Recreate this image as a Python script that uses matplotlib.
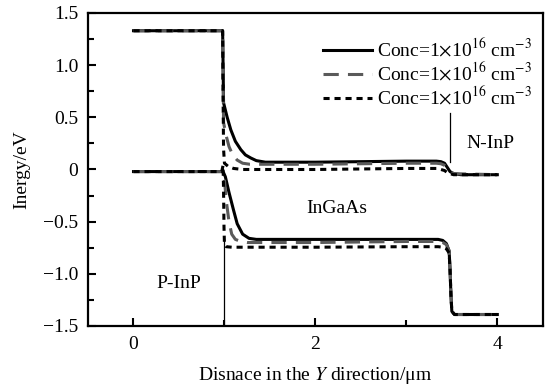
import matplotlib
matplotlib.use('Agg')
import matplotlib.pyplot as plt

plt.rcParams['font.family'] = ['Liberation Serif', 'DejaVu Serif']
plt.rcParams['mathtext.fontset'] = 'stix'

# Conduction band (upper curves)
x_cb_solid = [0, 0.98, 0.985, 0.99, 1.03, 1.07, 1.12, 1.18, 1.23, 1.29, 1.35, 1.45, 2.0, 3.0, 3.33, 3.38, 3.42, 3.45, 3.48, 3.52, 3.6, 4.0]
y_cb_solid = [1.33, 1.33, 1.0, 0.64, 0.50, 0.38, 0.27, 0.19, 0.14, 0.11, 0.085, 0.07, 0.07, 0.08, 0.08, 0.075, 0.06, 0.02, -0.02, -0.04, -0.05, -0.05]

x_cb_dash = [0, 0.98, 0.985, 0.99, 1.02, 1.05, 1.09, 1.14, 1.20, 1.28, 2.0, 3.0, 3.33, 3.38, 3.42, 3.45, 3.48, 3.52, 4.0]
y_cb_dash = [1.33, 1.33, 0.9, 0.45, 0.32, 0.22, 0.14, 0.09, 0.06, 0.05, 0.05, 0.06, 0.06, 0.055, 0.04, 0.01, -0.02, -0.04, -0.05]

x_cb_dot = [0, 0.98, 0.985, 0.99, 1.0, 1.04, 1.1, 1.2, 2.0, 3.0, 3.33, 3.38, 3.42, 3.45, 3.48, 3.52, 4.0]
y_cb_dot = [1.33, 1.33, 0.7, 0.2, 0.06, 0.03, 0.01, 0.0, 0.0, 0.01, 0.01, 0.0, -0.01, -0.03, -0.04, -0.05, -0.05]

# Valence band (lower curves)
x_vb_solid = [0, 0.98, 0.99, 1.01, 1.05, 1.10, 1.14, 1.20, 1.27, 1.35, 2.0, 3.0, 3.35, 3.40, 3.44, 3.47, 3.48, 3.49, 3.5, 3.53, 4.0]
y_vb_solid = [-0.02, -0.02, -0.03, -0.07, -0.22, -0.39, -0.52, -0.62, -0.66, -0.67, -0.67, -0.67, -0.67, -0.68, -0.71, -0.78, -0.95, -1.2, -1.36, -1.39, -1.39]

x_vb_dash = [0, 0.98, 0.99, 1.0, 1.02, 1.05, 1.08, 1.12, 1.18, 1.25, 2.0, 3.0, 3.35, 3.40, 3.44, 3.47, 3.48, 3.49, 3.5, 3.53, 4.0]
y_vb_dash = [-0.02, -0.02, -0.03, -0.10, -0.30, -0.50, -0.62, -0.67, -0.69, -0.70, -0.70, -0.69, -0.69, -0.70, -0.72, -0.78, -0.95, -1.2, -1.36, -1.39, -1.39]

x_vb_dot = [0, 0.97, 0.985, 0.99, 0.995, 1.0, 1.02, 1.08, 2.0, 3.0, 3.35, 3.40, 3.44, 3.47, 3.48, 3.49, 3.5, 3.53, 4.0]
y_vb_dot = [-0.02, -0.02, 0.04, -0.2, -0.55, -0.72, -0.74, -0.745, -0.745, -0.74, -0.74, -0.745, -0.76, -0.8, -0.95, -1.2, -1.36, -1.39, -1.39]

legend_label = r'Conc=1$\times$10$^{16}$ cm$^{-3}$'

fig = plt.figure(figsize=(5.55, 3.89), dpi=100)
ax = fig.add_axes([0.1586, 0.162, 0.8194, 0.8046])

ax.plot(x_cb_solid, y_cb_solid, color='black', lw=2.2, label=legend_label)
ax.plot(x_cb_dash, y_cb_dash, color='#5a5a5a', lw=2.2, dashes=(5, 3), label=legend_label)
ax.plot(x_cb_dot, y_cb_dot, color='black', lw=2.2, dashes=(2, 1.6), label=legend_label)

ax.plot(x_vb_solid, y_vb_solid, color='black', lw=2.2)
ax.plot(x_vb_dash, y_vb_dash, color='#5a5a5a', lw=2.2, dashes=(5, 3))
ax.plot(x_vb_dot, y_vb_dot, color='black', lw=2.2, dashes=(2, 1.6))

# region boundary markers
ax.plot([1.0, 1.0], [-0.68, -1.5], color='black', lw=0.9)
ax.plot([3.48, 3.48], [0.54, 0.07], color='black', lw=0.9)

ax.text(0.5, -1.09, 'P-InP', fontsize=14, ha='center', va='center')
ax.text(2.24, -0.37, 'InGaAs', fontsize=14, ha='center', va='center')
ax.text(3.92, 0.25, 'N-InP', fontsize=14, ha='center', va='center')

ax.set_xlim(-0.5, 4.5)
ax.set_ylim(-1.5, 1.5)
ax.set_xticks([0, 2, 4])
ax.set_xticks([1, 3], minor=True)
ax.set_yticks([-1.5, -1.0, -0.5, 0, 0.5, 1.0, 1.5])
ax.set_yticklabels(['\u22121.5', '\u22121.0', '\u22120.5', '0', '0.5', '1.0', '1.5'])
ax.set_yticks([-1.25, -0.75, -0.25, 0.25, 0.75, 1.25], minor=True)
ax.tick_params(which='both', direction='in', labelsize=14, width=1.5)
ax.tick_params(which='major', length=6, pad=7)
ax.tick_params(which='minor', length=4)
for s in ax.spines.values():
    s.set_linewidth(1.6)

ax.set_xlabel('Disnace in the $\\mathit{Y}$ direction/\u03bcm', fontsize=14, labelpad=9)
ax.set_ylabel('Inergy/eV', fontsize=14, labelpad=9)

ax.legend(loc='upper right', bbox_to_anchor=(0.975, 0.92), frameon=False, fontsize=14,
          handlelength=2.5, handletextpad=0.25, labelspacing=0.08, borderaxespad=0, borderpad=0)

fig.savefig('out.png', dpi=100)
